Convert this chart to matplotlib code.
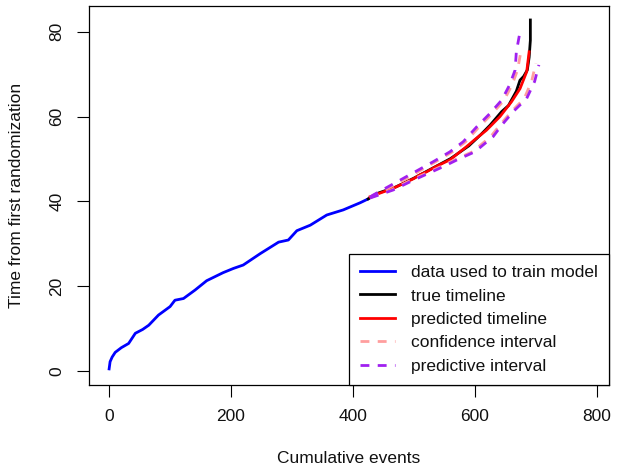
import matplotlib
matplotlib.use("Agg")
import matplotlib.pyplot as plt

plt.rcParams['font.family'] = ['Liberation Sans', 'DejaVu Sans']

# training data (cumulative events, time)
train_events = [0, 1.6, 5, 10, 20, 32, 43, 55, 65, 81, 100, 108, 122, 141, 160, 187,
                204, 220, 248, 278, 294, 308, 330, 357, 384, 412, 425]
train_time = [0.5, 2.2, 3.3, 4.4, 5.5, 6.5, 8.9, 9.8, 10.8, 13.2, 15.2, 16.7, 17.1, 19.1,
              21.3, 23.2, 24.2, 25.0, 27.7, 30.4, 30.9, 33.1, 34.4, 36.8, 38.0, 39.7, 40.6]

# true timeline
true_events = [425, 440, 470, 500, 530, 560, 590, 610, 625, 644, 655, 668, 674, 680, 686,
               689, 691, 691]
true_time = [40.6, 41.9, 43.4, 45.5, 47.8, 50.1, 53.1, 55.8, 58.0, 61.2, 62.6, 66.0,
             68.6, 69.5, 71.0, 74.0, 78.0, 82.8]

# predicted timeline
pred_events = [428, 466, 500, 510, 521, 537, 559, 586, 600, 619, 641, 660, 674, 685, 689]
pred_time = [41.1, 43.1, 45.4, 46.3, 47.0, 48.3, 49.8, 52.9, 54.6, 56.8, 60.0, 63.5,
             66.6, 70.6, 75.3]

# confidence interval
ci_low_events = [428, 438, 487, 536, 563, 585, 607, 629, 648, 661, 670, 675]
ci_low_time = [41.0, 41.6, 45.4, 49.4, 51.7, 54.1, 57.6, 60.8, 63.9, 67.5, 71.0, 75.0]
ci_high_events = [428, 463, 495, 544, 571, 596, 626, 641, 660, 681, 693, 700]
ci_high_time = [40.9, 42.7, 45.0, 48.2, 50.1, 51.7, 55.3, 58.0, 61.2, 64.3, 68.3, 72.6]

# predictive interval
pi_low_events = [428, 433, 482, 532, 559, 581, 603, 625, 644, 657, 666, 668, 673]
pi_low_time = [41.0, 41.5, 45.4, 49.4, 51.7, 54.1, 57.6, 60.8, 63.9, 67.5, 71.0, 75.3, 79.2]
pi_high_events = [428, 466, 499, 548, 575, 600, 630, 644, 663, 685, 698, 705]
pi_high_time = [40.8, 42.7, 45.0, 48.2, 50.1, 51.7, 55.3, 58.0, 61.2, 64.3, 68.3, 72.2]

x_ticks = [0, 200, 400, 600, 800]
y_ticks = [0, 20, 40, 60, 80]

W, H = 617, 473
fig = plt.figure(figsize=(W / 100, H / 100), dpi=100)
l, r, t, b = 89, 609, 6, 385
ax = fig.add_axes([l / W, 1 - b / H, (r - l) / W, (b - t) / H])

lw = 2.0
dash = (3.2, 3.0)
ax.plot(train_events, train_time, color='#0000FF', lw=lw, label='data used to train model')
ax.plot(true_events, true_time, color='black', lw=lw, label='true timeline')
ax.plot(pred_events, pred_time, color='#FF0000', lw=lw, label='predicted timeline')
ax.plot(ci_low_events, ci_low_time, color='#FF9E9E', lw=lw, dashes=dash,
        label='confidence interval')
ax.plot(ci_high_events, ci_high_time, color='#FF9E9E', lw=lw, dashes=dash)
ax.plot(pi_low_events, pi_low_time, color='#A020F0', lw=lw, dashes=dash,
        label='predictive interval')
ax.plot(pi_high_events, pi_high_time, color='#A020F0', lw=lw, dashes=dash)

ax.set_xlim(-33, 820)
ax.set_ylim(-3.3, 86.1)
ax.set_xticks(x_ticks)
ax.set_yticks(y_ticks)
fs = 12.5
ax.tick_params(axis='both', direction='out', length=8.6, width=0.8, color='black',
               labelsize=fs, labelcolor='#111111', pad=9)
for lab in ax.get_yticklabels():
    lab.set_rotation(90)
    lab.set_va('center')
for s in ax.spines.values():
    s.set_linewidth(0.9)
    s.set_color('black')

ax.set_xlabel('Cumulative events', fontsize=fs, color='#111111')
ax.set_ylabel('Time from first randomization', fontsize=fs, color='#111111')
ax.xaxis.set_label_coords(0.5, (b - 458) / (b - t))
ax.xaxis.label.set_va('center')
ax.yaxis.set_label_coords((17 - l) / (r - l), 0.5)
ax.yaxis.label.set_va('center')

leg = ax.legend(loc='lower right', fontsize=fs, frameon=True, fancybox=False,
                edgecolor='black', framealpha=1, borderaxespad=0, handlelength=2.0,
                handletextpad=0.9, labelspacing=0.475, borderpad=0.65)
leg.get_frame().set_linewidth(0.9)
for txt in leg.get_texts():
    txt.set_color('#111111')

fig.savefig('out.png', dpi=100)
